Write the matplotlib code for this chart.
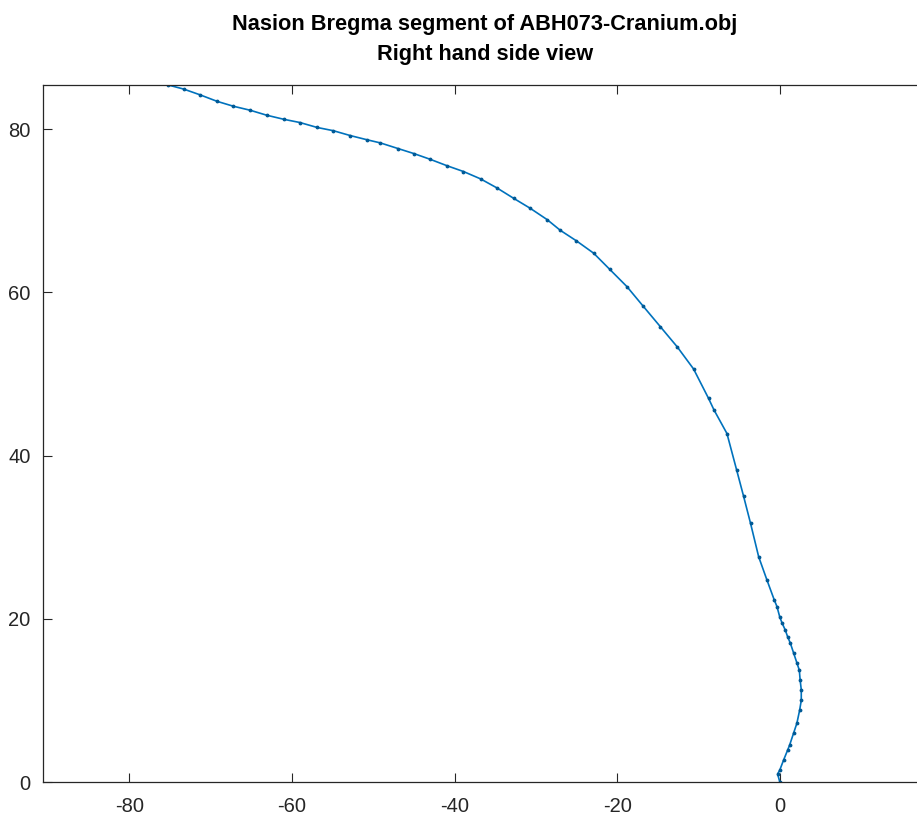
import matplotlib
matplotlib.use("Agg")
import matplotlib.pyplot as plt

# Nasion - Bregma outline, right hand side view
xs = [0.0, -0.27, 0.0, 0.47, 0.96, 1.2, 1.7, 2.1, 2.44, 2.64, 2.64, 2.5, 2.4, 2.1,
      1.7, 1.3, 0.96, 0.68, 0.27, 0.0, -0.35, -0.68, -1.6, -2.6, -3.6, -4.45, -5.3,
      -6.5, -8.1, -8.76, -10.6, -12.6, -14.7, -16.8, -18.8, -20.9, -22.9,
      -25.0, -27.0, -28.6, -30.7, -32.7, -34.8, -36.8, -38.9, -40.9, -43.0, -45.0,
      -46.9, -49.1, -50.8, -52.8, -54.9, -56.9, -59.0, -61.0, -63.1, -65.1, -67.2,
      -69.2, -71.3, -73.3, -75.2]
ys = [0.0, 0.98, 1.47, 2.7, 3.9, 4.5, 6.0, 7.2, 8.8, 10.0, 11.3, 12.5, 13.7, 14.6,
      15.8, 17.0, 17.8, 18.6, 19.5, 20.2, 21.5, 22.3, 24.8, 27.6, 31.7, 35.0, 38.2,
      42.7, 45.6, 47.0, 50.6, 53.3, 55.8, 58.3, 60.7, 62.8, 64.8,
      66.3, 67.6, 68.9, 70.3, 71.5, 72.8, 73.9, 74.8, 75.5, 76.3, 77.0,
      77.6, 78.3, 78.7, 79.2, 79.8, 80.2, 80.8, 81.2, 81.7, 82.3, 82.8,
      83.4, 84.2, 84.9, 85.4]

plt.rcParams["font.family"] = ["Liberation Sans", "DejaVu Sans"]
plt.rcParams["axes.unicode_minus"] = False

fig = plt.figure(figsize=(9.17, 8.16), dpi=100)
ax = fig.add_axes([43 / 917, 34 / 816, 884 / 917, 697 / 816])

ax.plot(xs, ys, color="#0072BD", lw=1.2, marker=".", ms=3.5, mfc="#005a96", mec="#005a96")

ax.set_xlim(-90.6, 18.1)
ax.set_ylim(0, 85.4)
ax.set_xticks([-80, -60, -40, -20, 0])
ax.set_yticks([0, 20, 40, 60, 80])
ax.tick_params(direction="in", length=6.5, width=0.8, colors="#262626",
               labelsize=14.5, top=True, right=True)
ax.tick_params(axis="x", pad=11)
ax.tick_params(axis="y", pad=9)
for s in ax.spines.values():
    s.set_color("#262626")
    s.set_linewidth(0.9)

ax.set_title("Nasion Bregma segment of ABH073-Cranium.obj\nRight hand side view",
             fontsize=15.7, fontweight="bold", pad=18, linespacing=1.55)

fig.savefig("out.png", dpi=100)
